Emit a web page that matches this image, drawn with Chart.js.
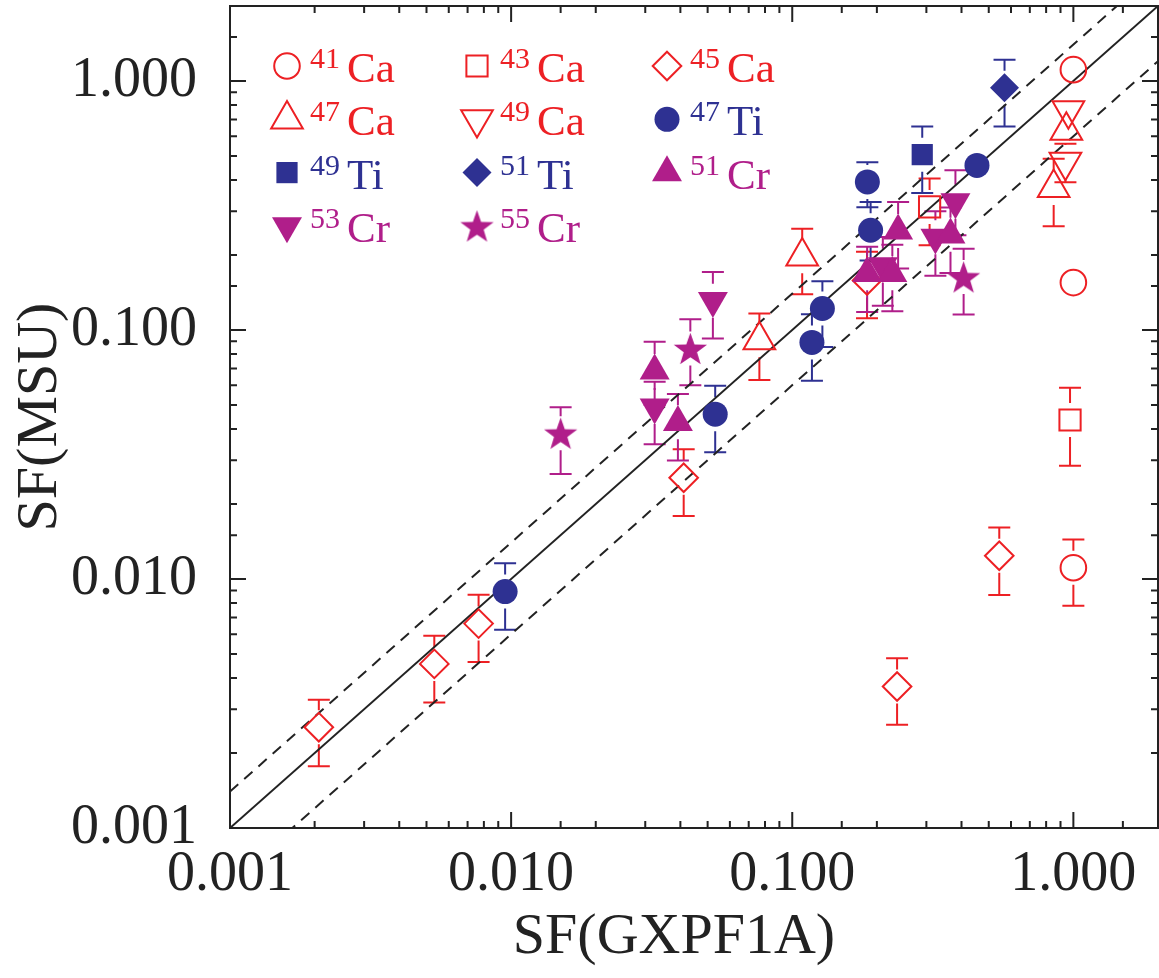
<!DOCTYPE html>
<html>
<head>
<meta charset="utf-8">
<script src="https://cdn.jsdelivr.net/npm/chart.js@4.4.0/dist/chart.umd.min.js"></script>
<style>
  html, body { margin: 0; padding: 0; background: #fff; }
</style>
</head>
<body>
<canvas id="sfChart" width="1159" height="978"></canvas>
<script>
// values: x = SF(GXPF1A), y = SF(MSU), lo/hi = error bar ends
const ca41X = [1.0, 1.0, 1.0];
const ca41Y = [1.11, 0.155, 0.0111];
const ca41Lo = [null, null, 0.0078];
const ca41Hi = [null, null, 0.0144];

const ca43X = [0.308, 0.973];
const ca43Y = [0.312, 0.0435];
const ca43Lo = [0.219, 0.0285];
const ca43Hi = [0.406, 0.0586];

const ca45X = [0.00207, 0.00533, 0.00766, 0.0411, 0.1845, 0.236, 0.545];
const ca45Y = [0.00254, 0.00456, 0.00662, 0.0255, 0.158, 0.0037, 0.0124];
const ca45Lo = [0.00177, 0.00319, 0.00464, 0.0179, 0.1115, 0.0026, 0.00863];
const ca45Hi = [0.00327, 0.00591, 0.00865, 0.0332, 0.206, 0.00481, 0.0161];

const ca47X = [0.0764, 0.1085, 0.851, 0.944];
const ca47Y = [0.091, 0.1977, 0.372, 0.632];
const ca47Lo = [0.063, 0.139, 0.261, null];
const ca47Hi = [0.1165, 0.255, 0.4875, null];

const ca49X = [0.96, 0.937];
const ca49Y = [0.762, 0.473];
const ca49Lo = [null, 0.392];
const ca49Hi = [null, 0.56];

const ti47X = [0.00952, 0.0532, 0.1175, 0.128, 0.185, 0.190, 0.454];
const ti47Y = [0.0089, 0.0459, 0.0891, 0.122, 0.393, 0.2514, 0.458];
const ti47Lo = [0.00625, 0.0323, 0.0625, 0.0855, 0.311, 0.19, null];
const ti47Hi = [0.01157, 0.0597, 0.1157, 0.157, 0.472, 0.3266, null];

const ti49X = [0.290];
const ti49Y = [0.506];
const ti49Lo = [0.355];
const ti49Hi = [0.657];

const ti51X = [0.569];
const ti51Y = [0.939];
const ti51Lo = [0.657];
const ti51Hi = [1.216];

const cr51X = [0.0324, 0.0392, 0.1847, 0.227, 0.238, 0.3655];
const cr51Y = [0.0685, 0.0426, 0.169, 0.169, 0.250, 0.241];
const cr51Lo = [0.05, 0.0299, 0.118, 0.119, 0.1765, 0.1695];
const cr51Hi = [0.0896, 0.0553, 0.216, 0.22, 0.3265, 0.31];

const cr53X = [0.0324, 0.0522, 0.210, 0.323, 0.3806];
const cr53Y = [0.049, 0.131, 0.181, 0.2356, 0.327];
const cr53Lo = [0.0348, 0.0925, 0.125, 0.165, 0.24];
const cr53Hi = [0.062, 0.171, 0.236, 0.30, 0.4375];

const cr55X = [0.015, 0.0434, 0.407];
const cr55Y = [0.0385, 0.0843, 0.1633];
const cr55Lo = [0.0264, 0.060, 0.1154];
const cr55Hi = [0.0489, 0.1105, 0.212];

// reference lines: y = x and the +-40% band
const diagX = [0.001, 2];
const unityY = [0.001, 2];
const upperY = [0.0014, 2.8];
const lowerY = [0.0006, 1.2];

const xTitle = 'SF(GXPF1A)';
const yTitle = 'SF(MSU)';

const RED = 'rgb(237,32,36)';
const BLUE = 'rgb(46,49,146)';
const MAG = 'rgb(176,30,138)';
const INK = '#222';
const SERIF = '"Liberation Serif", "Times New Roman", serif';

function pts(xs, ys) {
  return xs.map((x, i) => ({ x: x, y: ys[i] }));
}

// filled five point star used as an image point style
function makeStar(r, color) {
  const size = Math.ceil(2 * r + 4);
  const c = document.createElement('canvas');
  c.width = size; c.height = size;
  const g = c.getContext('2d');
  g.translate(size / 2, size / 2 + 0.095 * r);
  g.beginPath();
  for (let k = 0; k < 10; k++) {
    const a = k * Math.PI / 5;
    const rr = k % 2 ? r * 0.4 : r;
    g.lineTo(rr * Math.sin(a), -rr * Math.cos(a));
  }
  g.closePath();
  g.fillStyle = color;
  g.fill();
  return c;
}
const starImg = makeStar(17.5, MAG);

function series(label, mass, sym, xs, ys, lo, hi, color, style, radius, filled, rot, order) {
  return {
    label: label,
    iso: { mass: mass, sym: sym, style: style, rot: rot || 0, filled: filled },
    data: pts(xs, ys),
    errLo: lo,
    errHi: hi,
    borderColor: color,
    backgroundColor: filled ? color : 'rgba(0,0,0,0)',
    pointStyle: style === 'star' ? starImg : style,
    pointRadius: radius,
    pointRotation: rot || 0,
    pointBorderWidth: filled ? 0 : 2,
    order: order
  };
}

function refLine(ys, dash) {
  return {
    type: 'line',
    data: pts(diagX, ys),
    borderColor: INK,
    borderWidth: 2,
    borderDash: dash,
    pointRadius: 0,
    fill: false,
    order: 10
  };
}

const datasets = [
  series('41Ca', '41', 'Ca', ca41X, ca41Y, ca41Lo, ca41Hi, RED, 'circle', 12.8, false, 0, 3),
  series('43Ca', '43', 'Ca', ca43X, ca43Y, ca43Lo, ca43Hi, RED, 'rect', 15, false, 0, 3),
  series('45Ca', '45', 'Ca', ca45X, ca45Y, ca45Lo, ca45Hi, RED, 'rectRot', 14.3, false, 0, 3),
  series('47Ca', '47', 'Ca', ca47X, ca47Y, ca47Lo, ca47Hi, RED, 'triangle', 18.3, false, 0, 3),
  series('49Ca', '49', 'Ca', ca49X, ca49Y, ca49Lo, ca49Hi, RED, 'triangle', 18.3, false, 180, 3),
  series('47Ti', '47', 'Ti', ti47X, ti47Y, ti47Lo, ti47Hi, BLUE, 'circle', 12.5, true, 0, 2),
  series('49Ti', '49', 'Ti', ti49X, ti49Y, ti49Lo, ti49Hi, BLUE, 'rect', 15, true, 0, 2),
  series('51Ti', '51', 'Ti', ti51X, ti51Y, ti51Lo, ti51Hi, BLUE, 'rectRot', 14.5, true, 0, 2),
  series('51Cr', '51', 'Cr', cr51X, cr51Y, cr51Lo, cr51Hi, MAG, 'triangle', 17.3, true, 0, 1),
  series('53Cr', '53', 'Cr', cr53X, cr53Y, cr53Lo, cr53Hi, MAG, 'triangle', 17.3, true, 180, 1),
  series('55Cr', '55', 'Cr', cr55X, cr55Y, cr55Lo, cr55Hi, MAG, 'star', 17.5, true, 0, 1),
  refLine(unityY, []),
  refLine(upperY, [11, 8]),
  refLine(lowerY, [11, 8])
];

function isDecade(v) {
  const l = Math.log10(v);
  return Math.abs(l - Math.round(l)) < 1e-6;
}
function decadeLabel(v) {
  return isDecade(v) ? Number(v).toFixed(3) : '';
}

// keep the plot box where the figure has it, no extra room for end labels
function noEdgePadding(s) {
  s.paddingLeft = 0; s.paddingRight = 0;
  s.paddingTop = 0; s.paddingBottom = 0;
}

// vertical error bars with caps, broken around the marker
const errorBars = {
  id: 'errorBars',
  beforeDatasetsDraw(chart) {
    const { ctx, chartArea: a, scales: { x, y } } = chart;
    ctx.save();
    ctx.beginPath();
    ctx.rect(a.left, a.top, a.right - a.left, a.bottom - a.top);
    ctx.clip();
    ctx.lineWidth = 2;
    chart.data.datasets.forEach((ds) => {
      if (!ds.errLo) return;
      ctx.strokeStyle = ds.borderColor;
      const gap = 17, cap = 11;
      ds.data.forEach((p, j) => {
        const px = x.getPixelForValue(p.x);
        const py = y.getPixelForValue(p.y);
        ctx.beginPath();
        if (ds.errHi[j] != null) {
          const ph = y.getPixelForValue(ds.errHi[j]);
          if (ph < py - gap) { ctx.moveTo(px, py - gap); ctx.lineTo(px, ph); }
          ctx.moveTo(px - cap, ph); ctx.lineTo(px + cap, ph);
        }
        if (ds.errLo[j] != null) {
          const pl = y.getPixelForValue(ds.errLo[j]);
          if (pl > py + gap) { ctx.moveTo(px, py + gap); ctx.lineTo(px, pl); }
          ctx.moveTo(px - cap, pl); ctx.lineTo(px + cap, pl);
        }
        ctx.stroke();
      });
    });
    ctx.restore();
  }
};

// box frame with inward ticks on all four sides, plus the x axis title
const frameTicks = {
  id: 'frameTicks',
  afterDraw(chart) {
    const { ctx, chartArea: a, scales: { x, y } } = chart;
    ctx.save();
    ctx.strokeStyle = INK;
    ctx.lineWidth = 2;
    ctx.strokeRect(a.left, a.top, a.right - a.left, a.bottom - a.top);
    ctx.beginPath();
    x.ticks.forEach((t) => {
      const px = x.getPixelForValue(t.value);
      const len = isDecade(t.value) ? 16 : 7;
      ctx.moveTo(px, a.bottom); ctx.lineTo(px, a.bottom - len);
      ctx.moveTo(px, a.top); ctx.lineTo(px, a.top + len);
    });
    y.ticks.forEach((t) => {
      const py = y.getPixelForValue(t.value);
      const len = isDecade(t.value) ? 16 : 7;
      ctx.moveTo(a.left, py); ctx.lineTo(a.left + len, py);
      ctx.moveTo(a.right, py); ctx.lineTo(a.right - len, py);
    });
    ctx.stroke();

    // x title sits a little left of the plot centre in the figure
    ctx.fillStyle = INK;
    ctx.font = '58px ' + SERIF;
    ctx.textAlign = 'center';
    ctx.textBaseline = 'middle';
    ctx.fillText(xTitle, (a.left + a.right) / 2 - 20, x.bottom - 40);
    ctx.restore();
  }
};

function drawMarker(ctx, item, x, y, r, color) {
  if (item.style === 'star') {
    ctx.drawImage(starImg, x - starImg.width / 2, y - starImg.height / 2);
    return;
  }
  ctx.beginPath();
  if (item.style === 'circle') {
    ctx.arc(x, y, r, 0, 2 * Math.PI);
  } else if (item.style === 'rect') {
    const h = r * Math.SQRT1_2;
    ctx.rect(x - h, y - h, 2 * h, 2 * h);
  } else if (item.style === 'rectRot') {
    ctx.moveTo(x, y - r); ctx.lineTo(x + r, y); ctx.lineTo(x, y + r); ctx.lineTo(x - r, y);
    ctx.closePath();
  } else if (item.style === 'triangle') {
    const s = item.rot === 180 ? -1 : 1;
    for (let k = 0; k < 3; k++) {
      const ang = k * 2 * Math.PI / 3;
      ctx.lineTo(x + Math.sin(ang) * r, y - s * Math.cos(ang) * r);
    }
    ctx.closePath();
  }
  if (item.filled) { ctx.fillStyle = color; ctx.fill(); }
  else { ctx.strokeStyle = color; ctx.lineWidth = 2; ctx.stroke(); }
}

// 3-column legend inside the plot with superscript mass numbers
const isoLegend = {
  id: 'isoLegend',
  afterDraw(chart) {
    const { ctx, chartArea: a } = chart;
    ctx.save();
    let n = 0;
    chart.data.datasets.forEach((ds) => {
      if (!ds.iso) return;
      const col = n % 3, row = Math.floor(n / 3);
      const mx = a.left + 57 + col * 190;
      const base = a.top + 76 + row * 53.3;
      drawMarker(ctx, ds.iso, mx, base - 16, ds.pointRadius, ds.borderColor);
      ctx.fillStyle = ds.borderColor;
      ctx.textBaseline = 'alphabetic';
      ctx.textAlign = 'left';
      ctx.font = '30px ' + SERIF;
      ctx.fillText(ds.iso.mass, mx + 23, base - 14);
      ctx.font = '43px ' + SERIF;
      ctx.fillText(ds.iso.sym, mx + 60, base);
      n++;
    });
    ctx.restore();
  }
};

const ctx = document.getElementById('sfChart').getContext('2d');
new Chart(ctx, {
  type: 'scatter',
  data: { datasets: datasets },
  options: {
    responsive: false,
    animation: false,
    events: [],
    layout: { autoPadding: false, padding: { top: 6, right: 1, left: 0, bottom: 0 } },
    plugins: {
      legend: { display: false },
      tooltip: { enabled: false }
    },
    scales: {
      x: {
        type: 'logarithmic',
        position: 'bottom',
        min: 0.001,
        max: 2,
        grid: { display: false },
        border: { display: false },
        ticks: {
          autoSkip: false,
          maxRotation: 0,
          padding: 6,
          color: INK,
          font: { family: SERIF, size: 56 },
          callback: decadeLabel
        },
        title: { display: false },
        afterFit: (s) => { s.height = 150; noEdgePadding(s); }
      },
      y: {
        type: 'logarithmic',
        position: 'left',
        min: 0.001,
        max: 2,
        grid: { display: false },
        border: { display: false },
        ticks: {
          autoSkip: false,
          padding: 25,
          color: INK,
          font: { family: SERIF, size: 56 },
          callback: decadeLabel
        },
        title: {
          display: true,
          text: yTitle,
          color: INK,
          font: { family: SERIF, size: 58 },
          padding: { top: 6, bottom: 0 }
        },
        afterFit: (s) => { s.width = 230; noEdgePadding(s); }
      }
    }
  },
  plugins: [errorBars, frameTicks, isoLegend]
});
</script>
</body>
</html>
